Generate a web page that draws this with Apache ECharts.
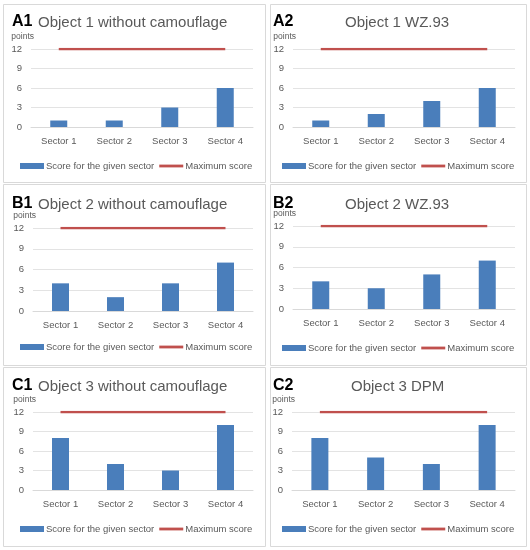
<!DOCTYPE html>
<html>
<head>
<meta charset="utf-8">
<script src="https://cdn.jsdelivr.net/npm/echarts@6/dist/echarts.min.js"></script>
<style>
html,body{margin:0;padding:0;background:#fff;}
#chart{width:530px;height:550px;}
</style>
</head>
<body>
<div id="chart"></div>
<script>
// ---- data ----
const categories = ['Sector 1', 'Sector 2', 'Sector 3', 'Sector 4'];
const panelCodes = ['A1', 'A2', 'B1', 'B2', 'C1', 'C2'];
const panelTitles = [
  'Object 1 without camouflage',
  'Object 1 WZ.93',
  'Object 2 without camouflage',
  'Object 2 WZ.93',
  'Object 3 without camouflage',
  'Object 3 DPM'
];
const scoresA1 = [1, 1, 3, 6];
const scoresA2 = [1, 2, 4, 6];
const scoresB1 = [4, 2, 4, 7];
const scoresB2 = [4, 3, 5, 7];
const scoresC1 = [8, 4, 3, 10];
const scoresC2 = [8, 5, 4, 10];
const maxScore = [12, 12, 12, 12];
const seriesNames = ['Score for the given sector', 'Maximum score'];
const yAxisName = 'points';

// ---- layout (styling only) ----
const allScores = [scoresA1, scoresA2, scoresB1, scoresB2, scoresC1, scoresC2];
const layout = [
  {px: 3,   py: 4,   pw: 262, ph: 178, gl: 31,  gt: 49,  gw: 222, gh: 78, code: [12, 23],  title: [38, 23],  leg: [20, 167]},
  {px: 270, py: 4,   pw: 256, ph: 178, gl: 293, gt: 49,  gw: 222, gh: 78, code: [273, 23], title: [345, 23], leg: [282, 167]},
  {px: 3,   py: 184, pw: 262, ph: 181, gl: 33,  gt: 228, gw: 220, gh: 83, code: [12, 205], title: [38, 205], leg: [20, 348]},
  {px: 270, py: 184, pw: 256, ph: 181, gl: 293, gt: 226, gw: 222, gh: 83, code: [273, 205], title: [345, 205], leg: [282, 349]},
  {px: 3,   py: 367, pw: 262, ph: 179, gl: 33,  gt: 412, gw: 220, gh: 78, code: [12, 387], title: [38, 387], leg: [20, 530]},
  {px: 270, py: 367, pw: 256, ph: 179, gl: 292, gt: 412, gw: 223, gh: 78, code: [273, 387], title: [351, 387], leg: [282, 530]}
];

const FONT = 'Liberation Sans';
const GREY = '#595959';
const BLUE = '#4A7EBB';
const RED = '#C0504D';
// thin horizontal bar centred in a 24x6 box (moveTo points pad the bounding box)
const LINE_ICON = 'path://M0,0M0,6M0,1.6H24V4.4H0Z';

const grid = [], xAxis = [], yAxis = [], series = [], title = [], legend = [], graphic = [];

layout.forEach((L, i) => {
  graphic.push({
    type: 'rect', silent: true,
    shape: {x: L.px + 0.5, y: L.py + 0.5, width: L.pw, height: L.ph},
    style: {fill: '#fff', stroke: '#d9d9d9', lineWidth: 1},
    z: -10
  });
  grid.push({left: L.gl, top: L.gt, width: L.gw, height: L.gh, containLabel: false});
  xAxis.push({
    type: 'category', gridIndex: i, data: categories,
    axisTick: {show: false},
    axisLine: {lineStyle: {color: '#d9d9d9'}},
    axisLabel: {color: GREY, fontFamily: FONT, fontSize: 9.5, margin: 9}
  });
  yAxis.push({
    type: 'value', gridIndex: i, min: 0, max: 12, interval: 3,
    name: yAxisName, nameLocation: 'end', nameGap: 8,
    nameTextStyle: {color: GREY, fontFamily: FONT, fontSize: 8.5, align: 'right', padding: [0, -3, 0, 0]},
    axisLine: {show: false}, axisTick: {show: false},
    axisLabel: {color: GREY, fontFamily: FONT, fontSize: 9.5, margin: 9},
    splitLine: {lineStyle: {color: '#e3e3e3'}}
  });
  series.push({
    type: 'bar', name: seriesNames[0], xAxisIndex: i, yAxisIndex: i,
    data: allScores[i], barWidth: 17,
    itemStyle: {color: BLUE}
  });
  series.push({
    type: 'line', name: seriesNames[1], xAxisIndex: i, yAxisIndex: i,
    data: maxScore, symbol: 'none',
    lineStyle: {color: RED, width: 2.5}, itemStyle: {color: RED}
  });
  title.push({
    text: panelCodes[i], left: L.code[0], top: L.code[1] - 9, padding: 0,
    textStyle: {fontFamily: FONT, fontSize: 16, fontWeight: 'bold', color: '#000'}
  });
  title.push({
    text: panelTitles[i], left: L.title[0], top: L.title[1] - 8, padding: 0,
    textStyle: {fontFamily: FONT, fontSize: 15, fontWeight: 'normal', color: GREY}
  });
  legend.push({
    data: [
      {name: seriesNames[0], icon: 'rect'},
      {name: seriesNames[1], icon: LINE_ICON, itemStyle: {color: RED}}
    ],
    left: L.leg[0], top: L.leg[1] - 6, padding: 0,
    itemWidth: 24, itemHeight: 6, itemGap: 5,
    selectedMode: false,
    textStyle: {color: GREY, fontFamily: FONT, fontSize: 9.5, padding: [0, 0, 0, -3]}
  });
});

const chart = echarts.init(document.getElementById('chart'), null, {renderer: 'canvas'});
chart.setOption({
  backgroundColor: '#fff',
  animation: false,
  graphic: graphic,
  title: title,
  legend: legend,
  grid: grid,
  xAxis: xAxis,
  yAxis: yAxis,
  series: series
});
</script>
</body>
</html>
